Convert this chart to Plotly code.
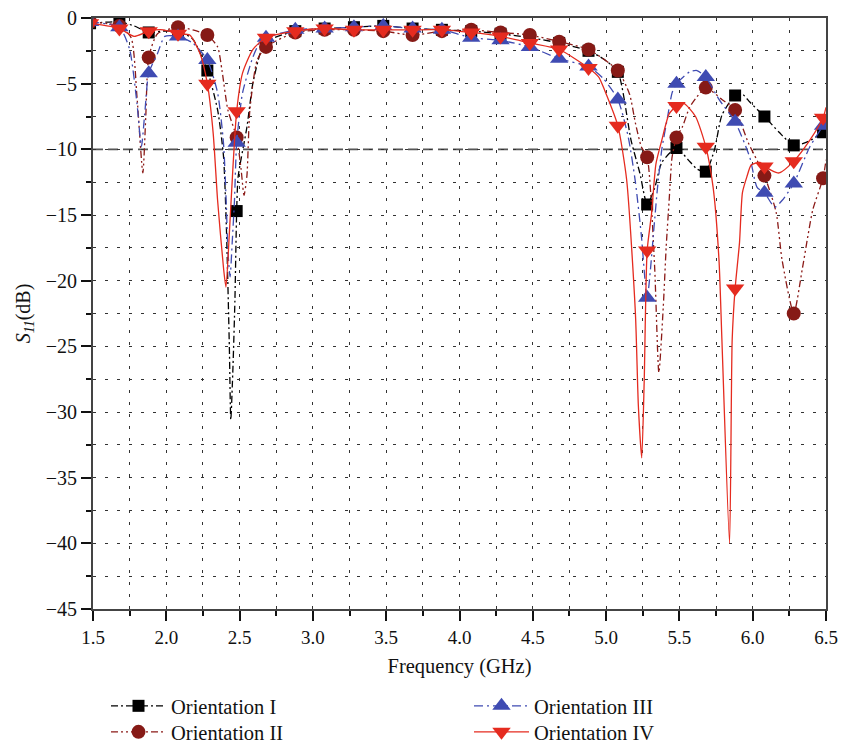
import plotly.graph_objects as go

# ---- data ----
marker_freq = [1.48, 1.68, 1.88, 2.08, 2.28, 2.48, 2.68, 2.88, 3.08, 3.28, 3.48, 3.68, 3.88,
               4.08, 4.28, 4.48, 4.68, 4.88, 5.08, 5.28, 5.48, 5.68, 5.88, 6.08, 6.28, 6.48]

mk_I = [-0.4, -0.3, -1.1, -1.0, -4.0, -14.7, -1.8, -1.0, -0.8, -0.7, -0.6, -0.8, -0.9,
        -1.0, -1.2, -1.5, -1.9, -2.5, -4.1, -14.2, -9.9, -11.7, -5.9, -7.5, -9.7, -8.7]
mk_II = [-0.3, -0.6, -3.0, -0.7, -1.3, -9.1, -2.2, -1.1, -0.9, -0.9, -1.0, -1.3, -1.0,
         -0.9, -1.1, -1.3, -1.8, -2.4, -4.0, -10.6, -9.1, -5.3, -7.0, -12.0, -22.5, -12.2]
mk_III = [-0.3, -0.7, -4.2, -1.4, -3.2, -9.5, -1.5, -0.9, -0.8, -0.7, -0.6, -0.8, -0.9,
          -1.5, -1.7, -2.2, -3.1, -3.7, -6.2, -21.3, -5.0, -4.5, -7.9, -13.3, -12.6, -8.2]
mk_IV = [-0.4, -0.8, -1.0, -1.2, -5.0, -7.1, -1.5, -1.0, -0.8, -0.9, -0.9, -0.9, -0.9,
         -1.1, -1.4, -1.9, -2.4, -3.8, -8.2, -17.7, -6.7, -9.8, -20.6, -11.3, -10.9, -7.6]

# extra curve points between the markers
ln_f_I = [1.78, 1.98, 2.18, 2.35, 2.39, 2.41, 2.43, 2.44, 2.455, 2.468, 2.49, 2.55, 2.59, 2.64,
          4.98, 5.17, 5.23, 5.33, 5.38, 5.56, 5.62, 5.74, 5.79, 5.93, 5.98, 6.18, 6.38, 6.5]
ln_I = [-0.6, -1.0, -1.6, -7.0, -10.5, -16.0, -25.0, -30.6, -26.5, -21.5, -12.1, -8.3, -5.0, -2.7,
        -3.1, -9.3, -11.8, -13.0, -11.0, -10.8, -11.5, -10.0, -7.4, -5.8, -6.4, -8.7, -9.4, -8.5]

ln_f_II = [1.76, 1.80, 1.84, 1.86, 1.94, 2.18, 2.35, 2.38, 2.42, 2.51, 2.53, 2.55, 2.57, 2.62,
           5.16, 5.20, 5.24, 5.33, 5.36, 5.39, 5.41, 5.43, 5.45, 5.52, 5.57, 5.62, 5.79, 5.97,
           6.16, 6.20, 6.34, 6.41, 6.5]
ln_II = [-1.5, -6.0, -11.8, -7.5, -1.2, -0.9, -2.2, -4.0, -7.0, -11.5, -13.5, -12.0, -7.0, -3.2,
         -5.8, -8.0, -9.8, -18.7, -27.0, -22.0, -17.4, -13.9, -10.6, -8.3, -6.8, -6.0, -6.2, -9.5,
         -14.8, -18.4, -19.0, -14.6, -10.8]

ln_f_III = [1.75, 1.80, 1.83, 1.855, 1.94, 1.99, 2.18, 2.35, 2.39, 2.41, 2.42, 2.435, 2.45, 2.465,
            2.52, 2.59, 2.64, 4.98, 5.15, 5.20, 5.24, 5.33, 5.35, 5.38, 5.42, 5.45, 5.57, 5.62,
            5.77, 5.98, 6.03, 6.15, 6.20, 6.39, 6.5]
ln_III = [-2.4, -6.5, -9.8, -7.0, -2.7, -1.4, -1.9, -5.7, -9.5, -14.4, -17.7, -19.7, -17.0, -13.9,
          -5.7, -3.0, -1.8, -4.6, -9.0, -12.5, -16.5, -15.5, -13.0, -10.0, -7.5, -5.7, -4.1, -4.0,
          -6.2, -10.6, -12.9, -14.4, -13.9, -9.8, -7.8]

ln_f_IV = [1.78, 1.98, 2.16, 2.23, 2.32, 2.35, 2.39, 2.407, 2.43, 2.455, 2.52, 2.59,
           4.95, 4.99, 5.14, 5.20, 5.22, 5.243, 5.26, 5.31, 5.34, 5.38, 5.43, 5.53, 5.61,
           5.73, 5.77, 5.79, 5.842, 5.86, 5.91, 5.93, 5.96, 5.99, 6.05, 6.18, 6.39, 6.5]
ln_IV = [-1.4, -0.9, -1.3, -2.7, -8.8, -13.9, -19.0, -20.5, -16.4, -11.3, -4.2, -2.4,
         -4.5, -5.5, -12.3, -22.5, -29.5, -33.5, -27.6, -14.9, -11.1, -9.3, -7.3, -6.5, -7.5,
         -12.9, -18.4, -24.5, -40.0, -24.5, -17.1, -13.3, -12.1, -11.2, -11.0, -11.8, -9.3, -6.8]

series = [
    dict(name="Orientation I", mk=mk_I, lf=ln_f_I, lv=ln_I, color="#000000", mcolor="#000000",
         symbol="square", size=12, dash="7px,3px,2px,3px", legend="legend"),
    dict(name="Orientation II", mk=mk_II, lf=ln_f_II, lv=ln_II, color="#8B1A17", mcolor="#861A16",
         symbol="circle", size=14, dash="7px,3px,2px,3px,2px,3px", legend="legend3"),
    dict(name="Orientation III", mk=mk_III, lf=ln_f_III, lv=ln_III, color="#3F4BB2", mcolor="#3F4BB2",
         symbol="triangle-up", size=16, dash="9px,4px,2px,4px", legend="legend2"),
    dict(name="Orientation IV", mk=mk_IV, lf=ln_f_IV, lv=ln_IV, color="#E52B1F", mcolor="#E52B1F",
         symbol="triangle-down", size=16, dash="solid", legend="legend4"),
]

fig = go.Figure()
for s in series:
    pts = [(f, v, s["mcolor"]) for f, v in zip(marker_freq, s["mk"])]
    pts += [(f, v, "rgba(0,0,0,0)") for f, v in zip(s["lf"], s["lv"])]
    pts.sort(key=lambda p: p[0])
    fig.add_trace(go.Scatter(
        x=[p[0] for p in pts], y=[p[1] for p in pts],
        mode="lines+markers", name=s["name"], legend=s["legend"],
        line=dict(color=s["color"], width=1.3, dash=s["dash"], shape="spline", smoothing=0.6),
        marker=dict(symbol=s["symbol"], size=s["size"], color=[p[2] for p in pts],
                    opacity=1, line=dict(width=0)),
    ))

fig.add_shape(type="line", xref="paper", x0=0, x1=1, yref="y", y0=-10, y1=-10,
              line=dict(color="#555555", width=1.6, dash="10px,5px"), layer="below")

font_family = "Liberation Serif"
grid_dash = "3px,9px"

# plot area: x 93..826, y 18..609 (height 591)
def leg(xp, yp):
    return dict(x=(xp - 93) / 733, xanchor="left", y=(609 - yp) / 591, yanchor="middle",
                itemwidth=55, font=dict(size=20.5, family=font_family, color="#111111"),
                bgcolor="rgba(0,0,0,0)", borderwidth=0)

fig.update_layout(
    width=842, height=744,
    margin=dict(l=93, r=16, t=18, b=135, autoexpand=False),
    paper_bgcolor="white", plot_bgcolor="white",
    font=dict(family=font_family, size=20, color="#111111"),
    showlegend=True,
    legend=leg(106, 706),
    legend2=leg(469, 706),
    legend3=leg(106, 732),
    legend4=leg(469, 732),
    xaxis=dict(range=[1.5, 6.5], tick0=1.5, dtick=0.5, tickformat=".1f",
               tickfont=dict(size=19, family=font_family, color="#111111"),
               showline=True, linecolor="#444444", linewidth=2, mirror=True,
               ticks="outside", ticklen=10, tickwidth=1.5, tickcolor="#111111",
               showgrid=True, gridcolor="#333333", gridwidth=1, griddash=grid_dash,
               minor=dict(dtick=0.25, ticks="outside", ticklen=5, tickwidth=1.5, tickcolor="#111111",
                          showgrid=True, gridcolor="#333333", gridwidth=1, griddash=grid_dash),
               zeroline=False,
               title=dict(text="Frequency (GHz)", standoff=12,
                          font=dict(size=20.5, family=font_family, color="#111111"))),
    yaxis=dict(range=[-45, 0], tick0=0, dtick=5,
               tickfont=dict(size=20, family=font_family, color="#111111"),
               showline=True, linecolor="#444444", linewidth=2, mirror=True,
               ticks="outside", ticklen=10, tickwidth=1.5, tickcolor="#111111",
               showgrid=True, gridcolor="#333333", gridwidth=1, griddash=grid_dash,
               minor=dict(dtick=2.5, ticks="outside", ticklen=5, tickwidth=1.5, tickcolor="#111111",
                          showgrid=True, gridcolor="#333333", gridwidth=1, griddash=grid_dash),
               zeroline=False,
               title=dict(text="<i>S</i><sub><i>11</i></sub>(dB)", standoff=10,
                          font=dict(size=20, family=font_family, color="#111111"))),
)

fig.write_html("out.html")
